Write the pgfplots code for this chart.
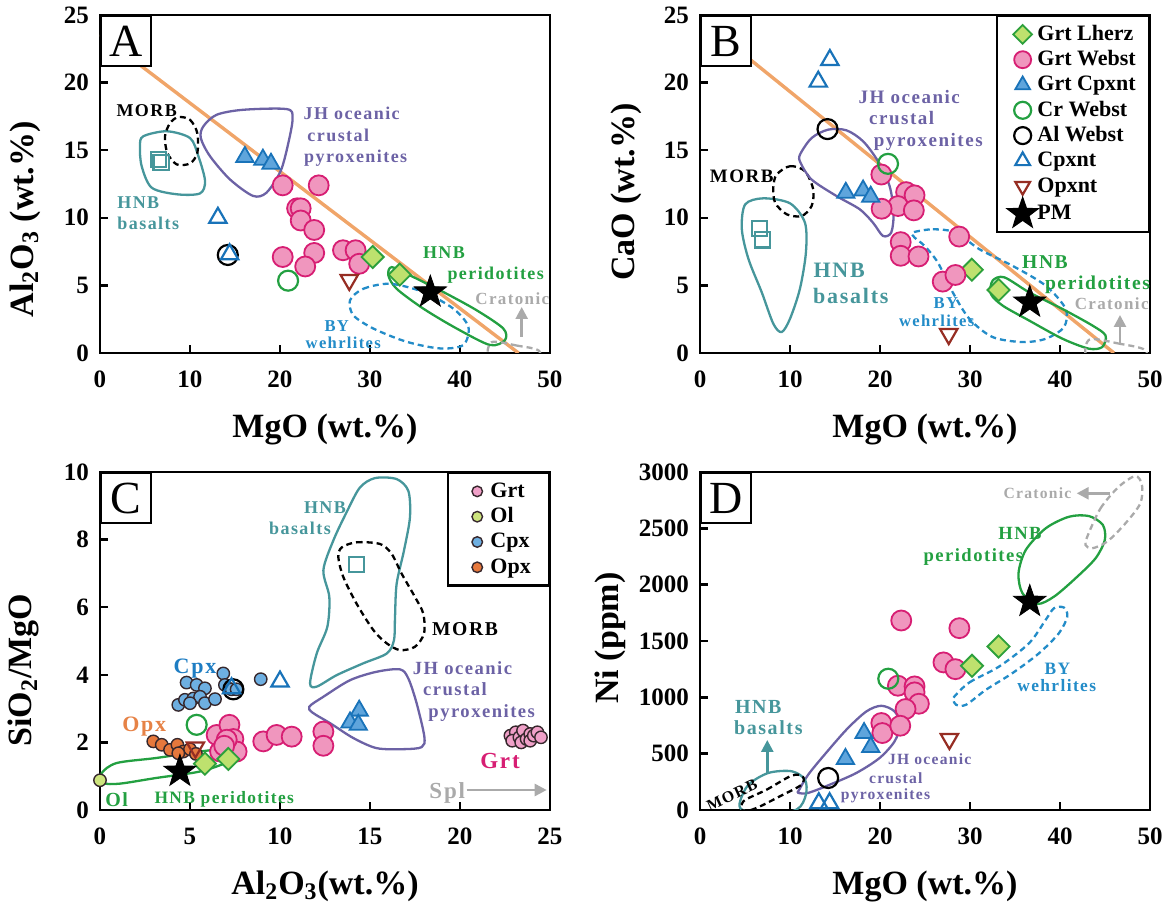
\documentclass[border=0pt]{standalone}
\usepackage{fontspec}
\setmainfont{Liberation Serif}
\newfontfamily\spaced{Liberation Serif}[LetterSpace=8]
\usepackage{pgfplots}
\pgfplotsset{compat=1.18}
\usetikzlibrary{arrows.meta}

\definecolor{lineOr}{RGB}{240,165,105}
\definecolor{cTeal}{RGB}{70,150,155}
\definecolor{cPurple}{RGB}{108,98,165}
\definecolor{cGreen}{RGB}{35,160,65}
\definecolor{cBlue}{RGB}{35,140,200}
\definecolor{cGray}{RGB}{170,170,170}
\definecolor{pinkFill}{RGB}{240,150,190}
\definecolor{pinkEdge}{RGB}{215,30,115}
\definecolor{lherzFill}{RGB}{190,225,110}
\definecolor{lherzEdge}{RGB}{45,160,60}
\definecolor{cpxFill}{RGB}{95,165,220}
\definecolor{cpxEdge}{RGB}{25,115,185}
\definecolor{opxnt}{RGB}{150,45,35}
\definecolor{mGrt}{RGB}{240,160,200}
\definecolor{mOl}{RGB}{205,228,125}
\definecolor{mCpx}{RGB}{110,175,225}
\definecolor{mOpx}{RGB}{230,120,60}
\definecolor{mEdge}{RGB}{55,40,45}
\definecolor{txtCpx}{RGB}{30,125,195}
\definecolor{txtOpx}{RGB}{230,130,70}

\newcommand{\ann}[1]{\spaced\bfseries\fontsize{#1}{#1}\selectfont}

% filled five-pointed star
\pgfdeclareplotmark{fstar}{%
  \pgfpathmoveto{\pgfpointpolar{90}{\pgfplotmarksize}}%
  \pgfpathlineto{\pgfpointpolar{126}{0.4\pgfplotmarksize}}%
  \pgfpathlineto{\pgfpointpolar{162}{\pgfplotmarksize}}%
  \pgfpathlineto{\pgfpointpolar{198}{0.4\pgfplotmarksize}}%
  \pgfpathlineto{\pgfpointpolar{234}{\pgfplotmarksize}}%
  \pgfpathlineto{\pgfpointpolar{270}{0.4\pgfplotmarksize}}%
  \pgfpathlineto{\pgfpointpolar{306}{\pgfplotmarksize}}%
  \pgfpathlineto{\pgfpointpolar{342}{0.4\pgfplotmarksize}}%
  \pgfpathlineto{\pgfpointpolar{18}{\pgfplotmarksize}}%
  \pgfpathlineto{\pgfpointpolar{54}{0.4\pgfplotmarksize}}%
  \pgfpathclose
  \pgfusepathqfillstroke
}

\pgfplotsset{
  panel/.style={
    scale only axis, width=225pt, height=169pt, anchor=south west,
    axis line style={line width=1.2pt},
    major tick style={line width=1.2pt, black},
    major tick length=4pt,
    tick align=inside, tick pos=left,
    ticklabel style={font=\fontsize{12.5}{14}\selectfont\bfseries},
    xticklabel style={yshift=-5.5pt},
    yticklabel style={xshift=-2pt},
    /pgf/number format/assume math mode=true,
    /pgf/number format/1000 sep={},
    scaled ticks=false,
    label style={font=\fontsize{17}{20}\selectfont\bfseries},
    xlabel style={at={(axis description cs:0.5,-0.249)}, anchor=base},
  },
  field/.style={mark=none, smooth cycle, line width=1.15pt, forget plot},
  dfield/.style={field, dash pattern=on 3pt off 2pt},
  grtlherz/.style={only marks, mark=square*, mark size=3.9pt,
    mark options={rotate=45, fill=lherzFill, draw=lherzEdge, line width=0.9pt}},
  grtwebst/.style={only marks, mark=*, mark size=5pt,
    mark options={fill=pinkFill, draw=pinkEdge, line width=0.9pt}},
  grtcpxnt/.style={only marks, mark=triangle*, mark size=5pt,
    mark options={fill=cpxFill, draw=cpxEdge, line width=0.9pt}},
  crwebst/.style={only marks, mark=o, mark size=5pt,
    mark options={draw=cGreen, line width=1.1pt}},
  alwebst/.style={only marks, mark=o, mark size=5pt,
    mark options={draw=black, line width=1.1pt}},
  cpxnt/.style={only marks, mark=triangle, mark size=5pt,
    mark options={draw=cpxEdge, line width=1.1pt}},
  opxntm/.style={only marks, mark=triangle, mark size=5pt,
    mark options={rotate=180, draw=opxnt, line width=1.1pt}},
  pm/.style={only marks, mark=fstar, mark size=8.5pt,
    mark options={fill=black, draw=black}},
  basalt/.style={only marks, mark=square, mark size=3.8pt,
    mark options={draw=cTeal, line width=1.1pt}},
  mineral/.style={only marks, mark=*, mark size=3.1pt,
    mark options={fill=#1, draw=mEdge, line width=0.7pt}},
  mylegend/.style 2 args={
    legend cell align=left,
    legend style={at={(1,1)}, anchor=north east, draw=black, line width=1.2pt,
      fill=white, font=\fontsize{11}{12}\selectfont\bfseries,
      inner xsep=#1, inner ysep=3pt, row sep=0.45pt,
      nodes={inner sep=0.5pt, text height=8.6pt, text depth=2.6pt},
      /tikz/every even column/.append style={column sep=#2}},
    legend image code/.code={%
      \path (-5.5pt,0pt) (5.5pt,0pt);
      \draw[##1, every mark/.append style={scale=0.85}] plot coordinates {(0pt,0pt)};},
  },
}

\newcommand{\panelmark}[1]{%
  \node[draw, line width=1.2pt, fill=white, minimum size=25pt, inner sep=0pt,
    anchor=north west, font=\fontsize{23}{23}\selectfont] at (rel axis cs:0,1) {#1};}

\begin{document}
\begin{tikzpicture}
\path[use as bounding box] (0,0) rectangle (584.5pt,452.5pt);

% ---------------- A: Al2O3 vs MgO ----------------
\begin{axis}[panel, at={(50pt,276pt)},
  xmin=0, xmax=50, ymin=0, ymax=25,
  xtick={0,10,...,50}, ytick={0,5,...,25},
  xlabel={MgO (wt.\%)},
  ylabel={Al\textsubscript{2}O\textsubscript{3} (wt.\%)},
  ylabel style={at={(axis description cs:-0.167,0.396)}, anchor=center}]
\addplot[lineOr, line width=1.7pt, forget plot] coordinates {(0,23.55) (46.5,0)};
\addplot[field, cTeal] coordinates {(4.81,16.03) (7.41,16.4) (10.0,15.9) (10.93,14.56) (11.67,12.72) (11.1,11.8) (8.52,11.74) (5.74,12.23) (4.63,13.82) (4.44,15.3)};
\addplot[dfield, black] coordinates {(8.70,17.45) (10.0,17.25) (10.81,16.27) (10.81,14.8) (10.0,14.02) (8.52,13.95) (7.48,14.8) (7.22,16.03) (7.78,17.0)};
\addplot[field, cPurple] coordinates {(11.48,16.76) (12.96,17.62) (15.93,17.99) (20.74,18.04) (21.4,17.38) (20.93,15.54) (20.07,13.46) (18.5,11.86) (17.0,11.62) (14.44,12.84) (12.22,14.56) (11.2,15.9)};
\addplot[field, cGreen] coordinates {(32.41,6.35) (34.44,5.74) (38.15,4.51) (41.85,3.16) (44.81,1.81) (45.0,0.96) (43.33,0.59) (39.63,1.81) (35.93,3.28) (32.96,4.75) (32.04,5.74)};
\addplot[dfield, cBlue] coordinates {(27.78,3.9) (29.26,4.75) (32.22,5.12) (35.93,4.51) (39.26,3.28) (40.93,1.94) (40.37,0.59) (37.78,0.34) (34.07,0.83) (30.37,1.81) (28.15,2.79)};
\addplot[dfield, cGray] coordinates {(43.5,0.8) (46.3,0.55) (48.8,0.15) (48.6,-1.0) (45.5,-1.3) (43.2,-0.4)};
\addplot[basalt] coordinates {(6.5,14.3) (6.8,14.1)};
\addplot[grtwebst] coordinates {(20.3,12.4) (24.3,12.4) (21.9,10.7) (22.3,10.7) (22.3,9.8) (23.8,9.1) (20.3,7.1) (23.8,7.4) (22.8,6.4) (27.0,7.6) (28.4,7.6) (28.8,6.6)};
\addplot[grtlherz] coordinates {(30.3,7.1) (33.3,5.8)};
\addplot[grtcpxnt] coordinates {(16.1,14.5) (18.1,14.3) (19.0,14.0)};
\addplot[crwebst] coordinates {(20.9,5.35)};
\addplot[alwebst] coordinates {(14.2,7.25)};
\addplot[cpxnt] coordinates {(13.1,10.0) (14.4,7.3)};
\addplot[opxntm] coordinates {(27.7,5.4)};
\addplot[pm] coordinates {(36.7,4.5)};
\panelmark{A}
\end{axis}

% ---------------- B: CaO vs MgO ----------------
\begin{axis}[panel, mylegend={6pt}{10pt}, at={(350pt,276pt)},
  xmin=0, xmax=50, ymin=0, ymax=25,
  xtick={0,10,...,50}, ytick={0,5,...,25},
  xlabel={MgO (wt.\%)},
  ylabel={CaO (wt.\%)},
  ylabel style={at={(axis description cs:-0.164,0.476)}, anchor=center}]
\addplot[lineOr, line width=1.7pt, forget plot] coordinates {(0,24.7) (46,0)};
\addplot[field, cTeal] coordinates {(5.02,10.99) (7.05,11.44) (10.0,11.07) (11.66,9.64) (11.77,7.44) (11.1,4.74) (10.0,2.53) (9.08,1.55) (8.15,2.16) (6.86,4.49) (5.39,6.94) (4.65,9.15)};
\addplot[dfield, black] coordinates {(8.52,13.2) (10.0,13.82) (11.66,13.45) (12.58,12.1) (12.4,10.87) (11.29,10.13) (9.63,10.26) (8.34,11.12) (8.15,12.29)};
\addplot[field, cPurple] coordinates {(11.11,14.67) (12.4,15.9) (14.24,16.52) (16.27,16.47) (18.12,15.66) (19.78,14.18) (21.07,12.34) (21.51,10.38) (21.25,8.91) (20.33,8.66) (19.22,9.64) (17.75,10.63) (15.17,11.61) (12.4,12.83) (11.18,14.06)};
\addplot[dfield, cBlue] coordinates {(23.65,8.91) (25.87,9.15) (28.45,8.91) (31.03,7.68) (34.72,6.45) (38.41,4.98) (40.63,3.26) (40.44,1.91) (38.41,1.05) (35.83,0.81) (32.51,1.18) (29.93,2.53) (28.08,4.49) (26.42,6.7) (24.94,7.93) (23.84,8.54)};
\addplot[field, cGreen] coordinates {(32.51,5.35) (33.8,5.6) (36.57,4.49) (40.26,3.26) (43.58,2.04) (45.06,1.3) (44.69,0.44) (43.21,0.32) (40.26,1.06) (36.57,2.4) (33.62,3.51) (32.32,4.37)};
\addplot[dfield, cGray] coordinates {(43.3,1.0) (46.5,0.7) (49.5,0.2) (49.3,-1.0) (46,-1.3) (43.0,-0.3)};
\addplot[basalt, forget plot] coordinates {(6.6,9.2) (6.97,8.37)};
\addplot[grtlherz] coordinates {(30.2,6.16) (33.17,4.66)};
\addlegendentry{Grt Lherz}
\addplot[grtwebst] coordinates {(20.15,13.2) (22.9,11.9) (23.84,11.66) (22.0,10.87) (20.18,10.67) (23.76,10.55) (22.3,8.2) (22.3,7.19) (24.28,7.14) (28.8,8.61) (26.97,5.28) (28.38,5.77)};
\addlegendentry{Grt Webst}
\addplot[grtcpxnt] coordinates {(16.2,11.85) (18.12,12.02) (18.97,11.56)};
\addlegendentry{Grt Cpxnt}
\addplot[crwebst] coordinates {(20.89,13.99)};
\addlegendentry{Cr Webst}
\addplot[alwebst] coordinates {(14.17,16.56)};
\addlegendentry{Al Webst}
\addplot[cpxnt] coordinates {(14.43,21.67) (13.14,20.07)};
\addlegendentry{Cpxnt}
\addplot[opxntm] coordinates {(27.64,1.4)};
\addlegendentry{Opxnt}
\addplot[pm] coordinates {(36.64,3.75)};
\addlegendentry{PM}
\panelmark{B}
\end{axis}

% ---------------- C: SiO2/MgO vs Al2O3 ----------------
\begin{axis}[panel, mylegend={8.5pt}{3pt}, at={(50pt,47.5pt)},
  xmin=0, xmax=25, ymin=0, ymax=10,
  xtick={0,5,...,25}, ytick={0,2,...,10},
  xlabel={Al\textsubscript{2}O\textsubscript{3}(wt.\%)},
  ylabel={SiO\textsubscript{2}/MgO},
  ylabel style={at={(axis description cs:-0.169,0.414)}, anchor=center}]
\addplot[field, cTeal] coordinates {(11.67,3.75) (12.04,4.63) (12.63,5.42) (12.74,6.30) (12.41,7.09) (12.96,7.97) (13.7,8.81) (14.44,9.54) (15.28,9.82) (16.48,9.79) (17.13,9.44) (17.22,8.66) (16.89,7.68) (16.48,6.69) (16.39,5.71) (16.33,5.02) (15.93,4.63) (14.63,4.34) (13.15,3.99) (12.04,3.65)};
\addplot[dfield, black] coordinates {(13.43,7.77) (14.26,7.92) (15.56,7.87) (16.2,7.58) (16.76,6.99) (17.5,6.30) (17.96,5.81) (18.0,5.22) (17.5,4.83) (16.67,4.73) (15.93,4.93) (15.19,5.32) (14.26,6.10) (13.52,6.89) (13.24,7.48)};
\addplot[field, cPurple] coordinates {(11.63,3.06) (12.41,3.35) (13.89,3.84) (15.37,4.09) (16.67,4.16) (17.13,3.89) (17.59,3.16) (18.02,2.17) (17.87,1.86) (16.85,1.80) (15.37,1.83) (14.07,2.13) (12.78,2.57) (11.81,2.88)};
\addplot[field, cGreen] coordinates {(0.09,1.09) (0.93,1.39) (3.15,1.54) (5.56,1.73) (7.41,1.83) (7.87,1.68) (7.22,1.44) (5.56,1.14) (3.15,0.95) (1.11,0.78) (0.19,0.80)};
\addplot[mineral=mGrt] coordinates {(22.8,2.2) (23.1,2.3) (22.9,2.05) (23.3,2.15) (23.5,2.35) (23.4,2.0) (23.7,2.1) (23.9,2.25) (23.9,2.05) (24.1,2.2) (24.3,2.3) (24.5,2.15)};
\addlegendentry{Grt}
\addplot[mineral=mOl] coordinates {(0.0,0.88)};
\addlegendentry{Ol}
\addplot[mineral=mCpx] coordinates {(4.81,3.77) (5.37,3.70) (5.83,3.60) (6.85,4.04) (6.94,3.70) (7.31,3.57) (7.59,3.57) (4.35,3.11) (4.72,3.26) (5.19,3.30) (5.56,3.35) (5.83,3.16) (6.39,3.28) (5.0,3.16) (8.93,3.87)};
\addlegendentry{Cpx}
\addplot[mineral=mOpx] coordinates {(2.96,2.03) (3.43,1.93) (3.89,1.78) (4.30,1.93) (4.63,1.73) (5.0,1.80) (5.33,1.66) (4.35,1.68)};
\addlegendentry{Opx}
\addplot[basalt, forget plot] coordinates {(14.26,7.26)};
\addplot[grtwebst, forget plot] coordinates {(6.48,2.22) (7.19,2.52) (7.41,2.10) (7.59,1.73) (6.67,1.73) (9.07,2.03) (9.81,2.22) (10.65,2.17) (12.41,2.32) (12.41,1.9) (7.04,2.08) (6.9,1.9)};
\addplot[grtlherz, forget plot] coordinates {(5.83,1.37) (7.13,1.51)};
\addplot[grtcpxnt, forget plot] coordinates {(14.4,2.94) (13.89,2.59) (14.35,2.52)};
\addplot[crwebst, forget plot] coordinates {(5.37,2.52)};
\addplot[alwebst, forget plot] coordinates {(7.41,3.57)};
\addplot[cpxnt, forget plot] coordinates {(7.31,3.6) (10.0,3.80)};
\addplot[opxntm, forget plot] coordinates {(5.3,1.85)};
\addplot[pm, forget plot] coordinates {(4.44,1.14)};
\panelmark{C}
\end{axis}

% ---------------- D: Ni vs MgO ----------------
\begin{axis}[panel, at={(350pt,47.5pt)},
  xmin=0, xmax=50, ymin=0, ymax=3000,
  xtick={0,10,...,50}, ytick={0,500,...,3000},
  xlabel={MgO (wt.\%)},
  ylabel={Ni (ppm)},
  ylabel style={at={(axis description cs:-0.2,0.509)}, anchor=center}]
\addplot[field, cGreen] coordinates {(37.49,1829) (35.83,1924) (35.39,2101) (36.2,2308) (38.41,2500) (41.0,2603) (43.21,2609) (44.76,2530) (44.98,2397) (43.95,2234) (41.73,2057) (39.34,1894)};
\addplot[dfield, cGray] coordinates {(43.03,2426) (44.5,2677) (46.53,2869) (48.38,2964) (49.11,2884) (48.93,2722) (47.27,2544) (45.24,2382) (43.58,2323) (42.84,2352)};
\addplot[dfield, cBlue] coordinates {(28.27,1008) (29.93,1132) (33.25,1274) (36.57,1481) (38.41,1688) (39.34,1791) (40.44,1797) (40.81,1717) (39.89,1570) (37.68,1392) (34.72,1215) (31.77,1067) (29.56,934) (28.45,934) (28.15,979)};
\addplot[field, cPurple] coordinates {(11.03,181) (12.03,314) (13.69,477) (16.27,713) (18.49,875) (20.15,925) (21.62,875) (22.25,757) (21.62,609) (19.96,462) (17.38,329) (14.43,225) (12.03,152) (10.92,152)};
\addplot[field, cTeal] coordinates {(4.46,78) (5.39,225) (7.6,329) (10.18,344) (11.66,270) (11.77,137) (10.74,4) (7.05,-55) (4.65,4)};
\addplot[dfield, black] coordinates {(4.83,78) (7.42,181) (10.18,305) (11.4,299) (11.29,225) (8.89,122) (6.31,19) (4.83,-11)};
\addplot[grtwebst] coordinates {(22.36,1682) (28.82,1614) (27.05,1310) (28.38,1250) (21.99,1103) (23.84,1097) (23.84,1044) (24.32,943) (22.84,896) (20.15,772) (20.26,683) (22.25,748)};
\addplot[grtlherz] coordinates {(30.22,1280) (33.17,1451)};
\addplot[grtcpxnt] coordinates {(16.16,453) (18.23,683) (18.97,559)};
\addplot[crwebst] coordinates {(20.92,1165)};
\addplot[alwebst] coordinates {(14.24,284)};
\addplot[cpxnt] coordinates {(13.2,60) (14.4,60)};
\addplot[opxntm] coordinates {(27.71,630)};
\addplot[pm] coordinates {(36.64,1850)};
\panelmark{D}
\end{axis}

% ---------------- field names and arrows ----------------
\begin{scope}[x=0.5pt, y=-0.5pt, yshift=452.5pt]
% A
\node[anchor=base, font=\ann{9}] at (146.7,116.7) {MORB};
\node[anchor=base, font=\ann{9}, text=cPurple] at (351.7,120) {JH oceanic};
\node[anchor=base, font=\ann{9}, text=cPurple] at (338.3,141.7) {crustal};
\node[anchor=base, font=\ann{9}, text=cPurple] at (355.7,162.3) {pyroxenites};
\node[anchor=base, font=\ann{9}, text=cTeal] at (138.3,208.3) {HNB};
\node[anchor=base, font=\ann{9}, text=cTeal] at (148.3,230) {basalts};
\node[anchor=base, font=\ann{9}, text=cGreen] at (444,258.3) {HNB};
\node[anchor=base, font=\ann{9}, text=cGreen] at (495.7,280) {peridotites};
\node[anchor=base, font=\ann{8.3}, text=cBlue] at (336.7,331.7) {BY};
\node[anchor=base, font=\ann{8.3}, text=cBlue] at (343.3,348.3) {wehrlites};
\node[anchor=base, font=\ann{8.5}, text=cGray] at (512.3,305) {Cratonic};
\draw[cGray, line width=1.3pt, -{Triangle[length=6pt,width=6pt]}] (521.7,337) -- (521.7,307);
% B
\node[anchor=base, font=\ann{9.5}] at (741.7,182.7) {MORB};
\node[anchor=base, font=\ann{9.5}, text=cPurple] at (909.2,104) {JH oceanic};
\node[anchor=base, font=\ann{9.5}, text=cPurple] at (901.7,125) {crustal};
\node[anchor=base, font=\ann{9.5}, text=cPurple] at (928.3,146.7) {pyroxenites};
\node[anchor=base, font=\ann{11}, text=cTeal] at (839.2,277.7) {HNB};
\node[anchor=base, font=\ann{11}, text=cTeal] at (850.8,303.3) {basalts};
\node[anchor=base, font=\ann{9.8}, text=cGreen] at (1045,268.3) {HNB};
\node[anchor=base, font=\ann{9.8}, text=cGreen] at (1097.5,290) {peridotites};
\node[anchor=base, font=\ann{8.3}, text=cBlue] at (945.8,308.3) {BY};
\node[anchor=base, font=\ann{8.3}, text=cBlue] at (936.7,326.7) {wehrlites};
\node[anchor=base, font=\ann{8.5}, text=cGray] at (1111.7,310) {Cratonic};
\draw[cGray, line width=1.3pt, -{Triangle[length=6pt,width=6pt]}] (1120,344) -- (1120,315);
% C
\node[anchor=base, font=\ann{9}, text=cTeal] at (325,513.3) {HNB};
\node[anchor=base, font=\ann{9}, text=cTeal] at (300,535) {basalts};
\node[anchor=base, font=\ann{9.8}] at (465,636) {MORB};
\node[anchor=base, font=\ann{9.3}, text=cPurple] at (462.5,675) {JH oceanic};
\node[anchor=base, font=\ann{9.3}, text=cPurple] at (455,696) {crustal};
\node[anchor=base, font=\ann{9.3}, text=cPurple] at (481.7,717.7) {pyroxenites};
\node[anchor=base, font=\ann{11}, text=txtCpx] at (195,673.3) {Cpx};
\node[anchor=base, font=\ann{11}, text=txtOpx] at (144.2,731.7) {Opx};
\node[anchor=base, font=\ann{11.5}, text=pinkEdge] at (500,768.3) {Grt};
\node[anchor=base, font=\ann{11.5}, text=cGray] at (447.3,798.3) {Spl};
\draw[cGray, line width=1.3pt, -{Triangle[length=6pt,width=6pt]}] (466.7,790) -- (546.7,790);
\node[anchor=base, font=\ann{10}, text=cGreen] at (116.7,806.7) {Ol};
\node[anchor=base, font=\ann{8.7}, text=cGreen] at (224.2,803.3) {HNB peridotites};
% D
\node[anchor=base, font=\ann{7.8}, text=cGray] at (1037.5,498.3) {Cratonic};
\draw[cGray, line width=1.3pt, -{Triangle[length=6pt,width=6pt]}] (1110,493.3) -- (1076.7,493.3);
\node[anchor=base, font=\ann{9.3}, text=cGreen] at (1020,540) {HNB};
\node[anchor=base, font=\ann{9.3}, text=cGreen] at (973.3,561.7) {peridotites};
\node[anchor=base, font=\ann{8.7}, text=cBlue] at (1057.5,675) {BY};
\node[anchor=base, font=\ann{8.7}, text=cBlue] at (1056.7,691.7) {wehrlites};
\node[anchor=base, font=\ann{10}, text=cTeal] at (758.3,713.3) {HNB};
\node[anchor=base, font=\ann{10}, text=cTeal] at (768.3,735) {basalts};
\draw[cTeal, line width=1.3pt, -{Triangle[length=6pt,width=6pt]}] (767.3,773.3) -- (767.3,740);
\node[anchor=base, font=\ann{7.8}, text=cPurple] at (929.7,765) {JH oceanic};
\node[anchor=base, font=\ann{7.8}, text=cPurple] at (895.8,783.3) {crustal};
\node[anchor=base, font=\ann{7.8}, text=cPurple] at (885.5,800) {pyroxenites};
\node[font=\ann{8}, rotate=25] at (732,795) {MORB};
\end{scope}
\end{tikzpicture}
\end{document}
